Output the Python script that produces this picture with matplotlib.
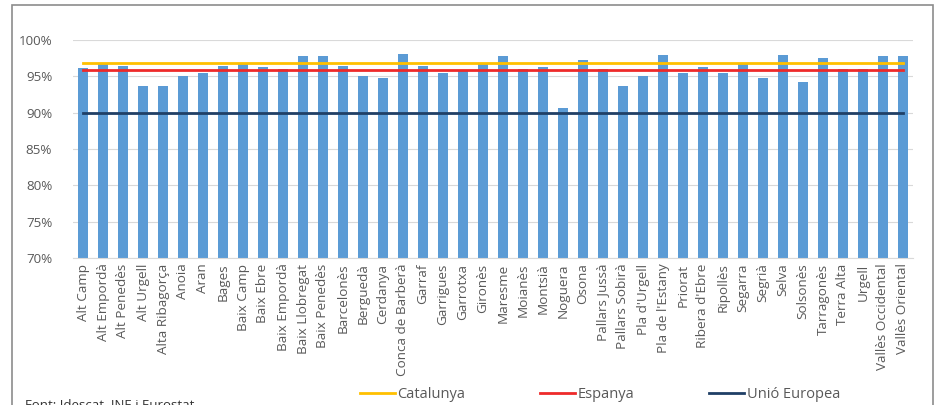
import matplotlib.pyplot as plt
import numpy as np
from matplotlib.patches import Rectangle
from matplotlib.ticker import PercentFormatter

plt.rcParams['font.family'] = ['Open Sans', 'DejaVu Sans']

comarques = ["Alt Camp", "Alt Empordà", "Alt Penedès", "Alt Urgell", "Alta Ribagorça",
             "Anoia", "Aran", "Bages", "Baix Camp", "Baix Ebre", "Baix Empordà",
             "Baix Llobregat", "Baix Penedès", "Barcelonès", "Berguedà", "Cerdanya",
             "Conca de Barberà", "Garraf", "Garrigues", "Garrotxa", "Gironès", "Maresme",
             "Moianès", "Montsià", "Noguera", "Osona", "Pallars Jussà", "Pallars Sobirà",
             "Pla d'Urgell", "Pla de l'Estany", "Priorat", "Ribera d'Ebre", "Ripollès",
             "Segarra", "Segrià", "Selva", "Solsonès", "Tarragonès", "Terra Alta", "Urgell",
             "Vallès Occidental", "Vallès Oriental"]
valors = [96.2, 96.7, 96.4, 93.7, 93.7, 95.1, 95.4, 96.4, 96.7, 96.3, 96.0,
          97.8, 97.8, 96.4, 95.1, 94.8, 98.1, 96.4, 95.5, 95.9, 96.8, 97.8,
          96.0, 96.3, 90.7, 97.3, 96.0, 93.7, 95.0, 98.0, 95.5, 96.3, 95.4,
          96.8, 94.8, 98.0, 94.2, 97.5, 96.0, 96.0, 97.8, 97.8]
catalunya = 96.9
espanya = 95.9
ue = 90.0

W, H = 943, 405
fig = plt.figure(figsize=(W / 100, H / 100), dpi=100)
ax = fig.add_axes([73 / W, (H - 258) / H, (913 - 73) / W, (258 - 40) / H])

x = np.arange(len(comarques))
ax.bar(x, valors, width=0.5, color='#5b9bd5', zorder=2)
n = len(comarques)
ax.plot(x, [catalunya] * n, color='#ffc000', lw=2, zorder=3, label='Catalunya')
ax.plot(x, [espanya] * n, color='#ee2a2a', lw=2, zorder=3, label='Espanya')
ax.plot(x, [ue] * n, color='#1f3f66', lw=2, zorder=3, label='Unió Europea')

ax.set_xlim(-0.5, n - 0.5)
ax.set_ylim(70, 100)
ax.set_yticks(np.arange(70, 101, 5))
ax.yaxis.set_major_formatter(PercentFormatter(decimals=0))
ax.set_xticks(x)
ax.set_xticklabels(comarques, rotation=90)
ax.tick_params(axis='x', length=0, pad=4, labelsize=9.7, labelcolor='#595959')
ax.tick_params(axis='y', length=0, pad=15, labelsize=9.6, labelcolor='#595959')
ax.grid(axis='y', color='#d9d9d9', lw=0.8, zorder=0)
for s in ['top', 'right', 'left']:
    ax.spines[s].set_visible(False)
ax.spines['bottom'].set_color('#d9d9d9')

fig.legend(loc='center', bbox_to_anchor=(600 / W, (H - 395) / H), ncol=3, frameon=False,
           fontsize=10.5, handlelength=2.4, columnspacing=5.1, handletextpad=0.2,
           labelcolor='#595959', borderpad=0)

# marc de la figura
fig.patches.append(Rectangle((12 / W, -0.1), (933 - 12) / W, (H - 5) / H + 0.1,
                             transform=fig.transFigure, fill=False, ec='#8c8c8c', lw=1.2))

# la font surt tallada a la vora inferior, com a l'original
fig.text(25 / W, (H - 399) / H, "Font: Idescat, INE i Eurostat.", fontsize=9.5,
         va='top', ha='left', color='#333333')

fig.savefig('out.png', dpi=100)
